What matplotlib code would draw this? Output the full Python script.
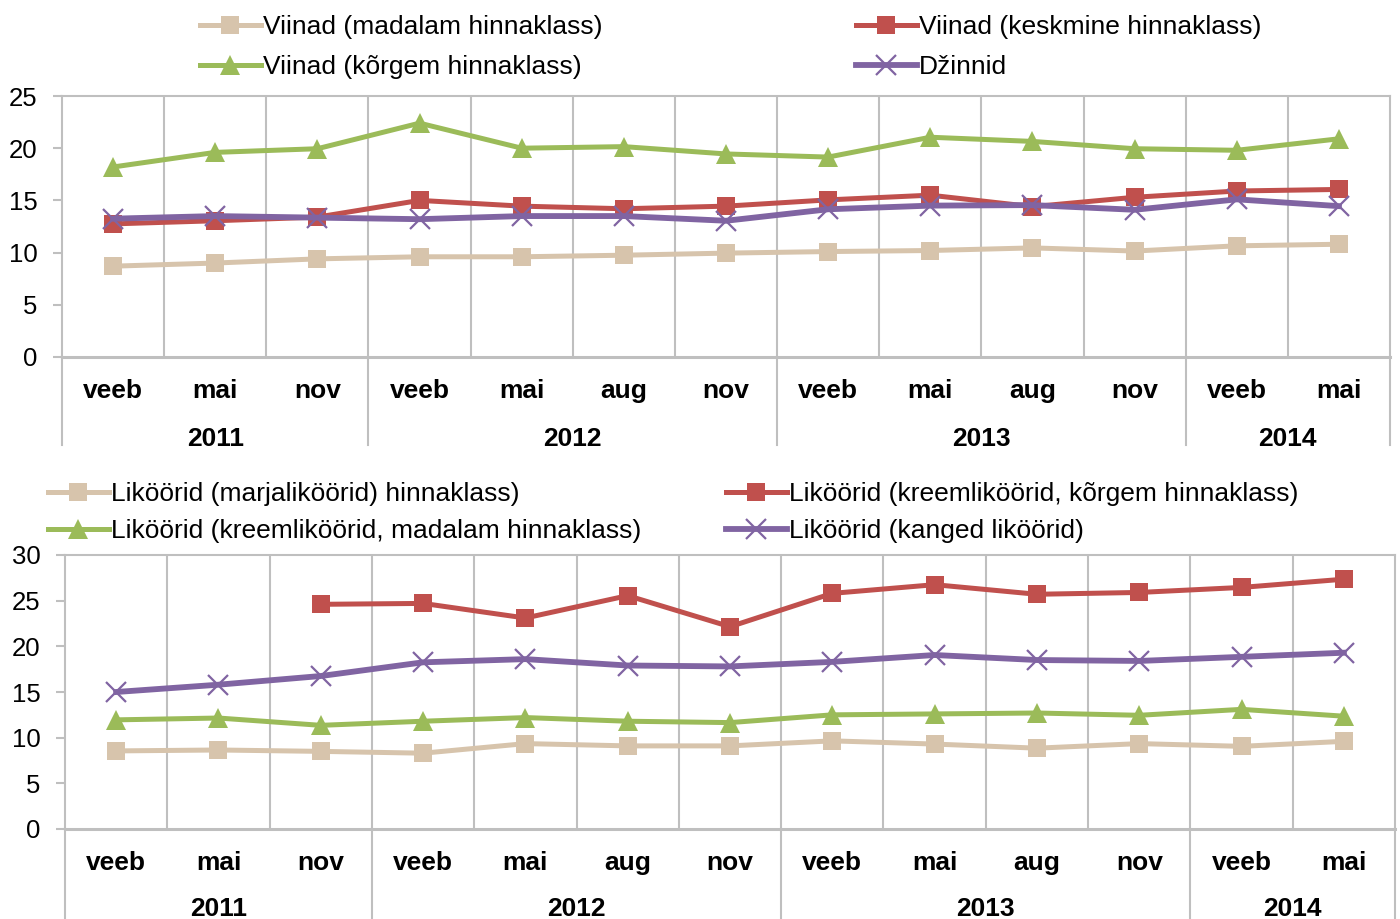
import matplotlib
matplotlib.use("Agg")
import matplotlib.pyplot as plt
import numpy as np
from matplotlib.lines import Line2D

plt.rcParams['font.family'] = ['Liberation Sans', 'DejaVu Sans']

months = ['veeb', 'mai', 'nov', 'veeb', 'mai', 'aug', 'nov',
          'veeb', 'mai', 'aug', 'nov', 'veeb', 'mai']
years = ['2011', '2012', '2013', '2014']
year_spans = [(0, 2), (3, 6), (7, 10), (11, 12)]

# Top panel: Viinad / Džinnid
top_labels = ['Viinad (madalam hinnaklass)', 'Viinad (keskmine hinnaklass)',
              'Viinad (kõrgem hinnaklass)', 'Džinnid']
viin_madal = [8.7, 9.0, 9.4, 9.6, 9.6, 9.75, 9.95, 10.1, 10.2, 10.45, 10.15, 10.65, 10.8]
viin_kesk = [12.75, 13.05, 13.4, 15.0, 14.45, 14.2, 14.45, 15.05, 15.5, 14.4, 15.3, 15.9, 16.05]
viin_korg = [18.2, 19.6, 19.95, 22.4, 20.0, 20.15, 19.45, 19.15, 21.05, 20.65, 19.95, 19.8, 20.9]
dzinnid = [13.25, 13.5, 13.35, 13.2, 13.5, 13.5, 13.05, 14.15, 14.5, 14.55, 14.1, 15.1, 14.45]

# Bottom panel: Liköörid
bot_labels = ['Liköörid (marjaliköörid) hinnaklass)',
              'Liköörid (kreemliköörid, kõrgem hinnaklass)',
              'Liköörid (kreemliköörid, madalam hinnaklass)',
              'Liköörid (kanged liköörid)']
lik_marja = [8.55, 8.65, 8.5, 8.3, 9.35, 9.1, 9.1, 9.65, 9.3, 8.85, 9.35, 9.05, 9.6]
lik_kreem_korg = [np.nan, np.nan, 24.6, 24.7, 23.1, 25.55, 22.15, 25.8, 26.75, 25.7, 25.9, 26.45, 27.35]
lik_kreem_madal = [11.95, 12.15, 11.35, 11.8, 12.2, 11.8, 11.65, 12.5, 12.6, 12.7, 12.45, 13.1, 12.35]
lik_kanged = [15.0, 15.8, 16.75, 18.25, 18.6, 17.9, 17.8, 18.3, 19.05, 18.5, 18.4, 18.85, 19.3]

C_TAN = '#D7C4AC'
C_RED = '#C0504D'
C_GREEN = '#9BBB59'
C_PURPLE = '#8064A2'
GRID = '#BFBFBF'

W, H = 1400, 919
fig = plt.figure(figsize=(W / 100, H / 100), dpi=100)

FS = 19


def styles():
    return [
        dict(color=C_TAN, lw=3.6, marker='s', ms=12.5, mew=0),
        dict(color=C_RED, lw=3.6, marker='s', ms=12.5, mew=0),
        dict(color=C_GREEN, lw=3.6, marker='^', ms=14, mew=0),
        dict(color=C_PURPLE, lw=4.2, marker='x', ms=14, mew=1.6),
    ]


def panel(px_left, px_right, px_top, px_bottom, ymax, series, labels,
          month_y, year_y, sep_end, leg_cols_x, leg_center_y, labelspacing):
    ax = fig.add_axes([px_left / W, 1 - px_bottom / H,
                       (px_right - px_left) / W, (px_bottom - px_top) / H])
    x = np.arange(len(months))
    handles = []
    for s, st in zip(series, styles()):
        h, = ax.plot(x, s, solid_joinstyle='miter', zorder=3, **st)
        handles.append(h)
    ax.set_xlim(-0.5, len(months) - 0.5)
    ax.set_ylim(0, ymax)
    ax.set_yticks(np.arange(0, ymax + 1, 5))
    ax.set_xticks([])
    for b in np.arange(0.5, len(months) - 0.5, 1.0):
        ax.axvline(b, color=GRID, lw=1.5, zorder=1)
    for sp in ['top', 'right', 'left']:
        ax.spines[sp].set_color(GRID)
        ax.spines[sp].set_linewidth(1.5)
    ax.spines['bottom'].set_color(GRID)
    ax.spines['bottom'].set_linewidth(2.2)
    ax.tick_params(axis='y', direction='out', length=6.5, width=1.5, color=GRID,
                   labelsize=FS - 0.5, pad=11)
    ax.set_facecolor('white')

    hpx = px_bottom - px_top
    tr = ax.get_xaxis_transform()
    for i, m in enumerate(months):
        ax.text(i, (px_bottom - month_y) / hpx, m, transform=tr, ha='center',
                va='center', fontsize=FS, fontweight='bold', clip_on=False)
    for yr, (a, b) in zip(years, year_spans):
        ax.text((a + b) / 2, (px_bottom - year_y) / hpx, yr, transform=tr,
                ha='center', va='center', fontsize=FS, fontweight='bold', clip_on=False)
    seps = [-0.5] + [b + 0.5 for (_, b) in year_spans]
    yend = (px_bottom - sep_end) / hpx
    for sx in seps:
        ax.add_line(Line2D([sx, sx], [0, yend], transform=tr, color=GRID,
                           lw=1.5, clip_on=False))

    # legends (two columns)
    cy = 1 - leg_center_y / H
    for col, xpx in enumerate(leg_cols_x):
        idx = [col, col + 2]
        fig.legend([handles[i] for i in idx], [labels[i] for i in idx],
                   loc='center left', bbox_to_anchor=(xpx / W, cy),
                   frameon=False, fontsize=FS, borderpad=0, borderaxespad=0,
                   handlelength=2.3, handletextpad=0.1,
                   labelspacing=labelspacing)
    return ax


panel(62, 1390, 96, 357, 25, [viin_madal, viin_kesk, viin_korg, dzinnid], top_labels,
      391, 439, 445, [200, 856], 47, 0.61)
panel(65, 1395, 555, 829, 30, [lik_marja, lik_kreem_korg, lik_kreem_madal, lik_kanged],
      bot_labels, 863, 909, 925, [48, 726], 512.5, 0.49)

fig.savefig('out.png', dpi=100, facecolor='white')
